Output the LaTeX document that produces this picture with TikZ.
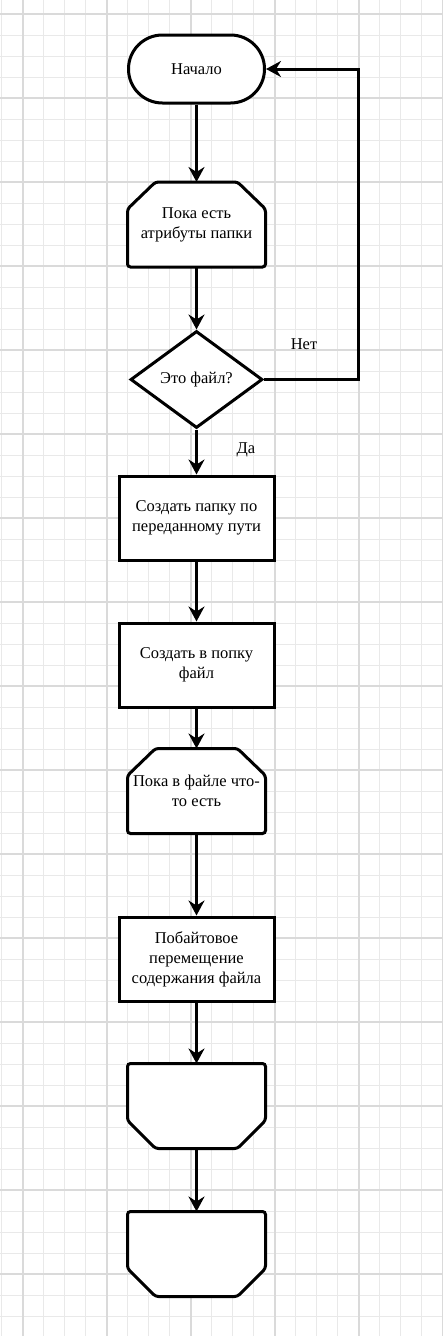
\documentclass[tikz,border=0pt]{standalone}
\usepackage{fontspec}
\setmainfont{Liberation Serif}
\usetikzlibrary{shapes.geometric,arrows.meta}
\pgfdeclarelayer{grid}
\pgfdeclarelayer{shape}
\pgfsetlayers{grid,shape,main}
\definecolor{gridminor}{RGB}{233,233,233}
\definecolor{gridmajor}{RGB}{218,218,218}
\begin{document}
\begin{tikzpicture}[
    x=1pt, y=-1pt,
    every node/.style={font=\fontsize{16.5}{20}\selectfont, align=center},
    box/.style={draw=black, fill=white, line width=3pt},
    term/.style={box, rectangle, rounded corners=33.9pt, minimum width=136pt, minimum height=68pt},
    proc/.style={box, rectangle, minimum width=155pt, minimum height=84pt},
    loopbox/.style={rectangle, inner sep=0pt, outer sep=0pt, minimum width=138pt, minimum height=85pt},
    decision/.style={box, diamond, aspect=1.36, inner sep=0pt, minimum width=132pt, minimum height=97pt},
    flow/.style={line width=3pt, black, -{Stealth[length=15pt, width=16pt, inset=5pt]}},
    gridline/.style={gridminor, line width=1.2pt},
    gridbold/.style={gridmajor, line width=2pt}
  ]
    \useasboundingbox (0, 0) rectangle (442, 1336);

    % Squared paper background
    \begin{pgfonlayer}{grid}
      \fill[white] (0, 0) rectangle (442, 1336);
      \foreach \i in {0,...,21} \draw[gridline] (1.7+21*\i, 0) -- (1.7+21*\i, 1336);
      \foreach \j in {0,...,62} \draw[gridline] (0, 14.3+21*\j) -- (442, 14.3+21*\j);
      \foreach \i in {0,...,5} \draw[gridbold] (22.7+84*\i, 0) -- (22.7+84*\i, 1336);
      \foreach \j in {0,...,15} \draw[gridbold] (0, 14.3+84*\j) -- (442, 14.3+84*\j);
    \end{pgfonlayer}

    % Flowchart blocks
    \node[term] (start) at (196.5, 69) {Начало};
    \node[loopbox] (attr) at (196.5, 224.5) {Пока есть\\атрибуты папки};
    \node[decision] (isfile) at (196.5, 379.5) {Это файл?};
    \node[proc] (mkdir) at (196.5, 518) {Создать папку по\\переданному пути};
    \node[proc] (mkfile) at (196.5, 665) {Создать в попку\\файл};
    \node[loopbox] (bytes) at (196.5, 791) {Пока в файле что-\\то есть};
    \node[proc] (copy) at (196.5, 959) {Побайтовое\\перемещение\\содержания файла};
    \node[loopbox] (endbytes) at (196.5, 1106) {};
    \node[loopbox] (endattr) at (196.5, 1254) {};

    % Loop limit outlines
    \begin{pgfonlayer}{shape}
      % loop start: top corners cut
      \foreach \n in {attr, bytes}
        \draw[box, rounded corners=3pt] ([xshift=28pt]\n.north west) -- ([xshift=-28pt]\n.north east)
          -- ([yshift=-27pt]\n.north east) -- (\n.south east) -- (\n.south west)
          -- ([yshift=-27pt]\n.north west) -- cycle;
      % loop end: bottom corners cut
      \foreach \n in {endbytes, endattr}
        \draw[box, rounded corners=3pt] (\n.north west) -- (\n.north east)
          -- ([yshift=28pt]\n.south east) -- ([xshift=-28pt]\n.south east)
          -- ([xshift=28pt]\n.south west) -- ([yshift=28pt]\n.south west) -- cycle;
    \end{pgfonlayer}

    % Connectors
    \draw[flow] (start.south) -- (attr.north);
    \draw[flow] (attr.south) -- (isfile.north);
    \draw[flow] (isfile.south) -- (mkdir.north);
    \draw[flow] (mkdir.south) -- (mkfile.north);
    \draw[flow] (mkfile.south) -- (bytes.north);
    \draw[flow] (bytes.south) -- (copy.north);
    \draw[flow] (copy.south) -- (endbytes.north);
    \draw[flow] (endbytes.south) -- (endattr.north);

    % Back to start when not a file
    \coordinate (back) at (358.5, 379.5);
    \draw[flow] (isfile.east) -- (back) |- (start.east);

    % Branch labels
    \node (no) at (304, 344) {Нет};
    \node (yes) at (246, 450) {Да};

  \end{tikzpicture}
\end{document}
